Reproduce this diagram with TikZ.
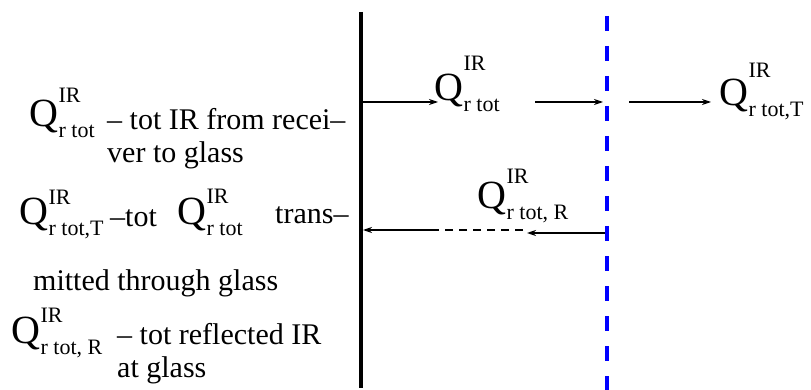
\documentclass[tikz,border=0pt]{standalone}
\usepackage{fontspec}
\setmainfont{Liberation Serif}
\newfontfamily\tms{Liberation Serif}
\usetikzlibrary{arrows.meta}
\newcommand{\Qsym}[2][22]{{\fontsize{40}{40}\selectfont Q}\kern0.5pt\rlap{\raisebox{#1pt}{\fontsize{22}{22}\selectfont IR}}\raisebox{-11pt}{\fontsize{22}{22}\selectfont #2}}
\tikzset{
  lbl/.style={anchor=base west, inner sep=0pt, font=\tms\fontsize{30}{30}\selectfont},
  qs/.style={anchor=base west, inner sep=0pt, font=\tms},
  arr/.style={line width=1.1pt, -{Stealth[length=9pt,width=6pt]}},
  dashpart/.style={line width=1.1pt, dash pattern=on 8pt off 6pt},
  receiver/.style={line width=4pt, black},
  glass/.style={line width=3.5pt, color={rgb,255:red,0;green,0;blue,255}, dash pattern=on 15pt off 15pt}
}
\begin{document}
\begin{tikzpicture}[x=1pt, y=-1pt]
\useasboundingbox (0,0) rectangle (811,390);
% walls
\coordinate (rtop) at (361,12);
\coordinate (rbot) at (361,388);
\coordinate (gtop) at (607,16);
\coordinate (gbot) at (607,390);
\draw[receiver] (rtop) -- (rbot);
\draw[glass] (gtop) -- (gbot);
% left legend
\node[qs] (lq1) at (29,127) {\Qsym[24]{r tot}};
\node[lbl] (lt1) at (107,130) {– tot IR from recei–};
\node[lbl] (lt1b) at (107,163) {ver to glass};
\node[qs] (lq2) at (19,225) {\Qsym[20]{r tot,T}};
\node[lbl] (lt2) at (110,226) {–tot};
\node[qs] (lq2b) at (177,225) {\Qsym[21]{r tot}};
\node[lbl] (lt2b) at (275,223) {trans–};
\node[lbl] (lt2c) at (33,290) {mitted through glass};
\node[qs] (lq3) at (11,343) {\Qsym[21]{r tot, R}};
\node[lbl] (lt3) at (117,344) {– tot reflected IR};
\node[lbl] (lt3b) at (117,377) {at glass};
% right labels
\node[qs] (q1) at (434,101) {\Qsym[30]{r tot}};
\node[qs] (q2) at (719,106) {\Qsym[28]{r tot,T}};
\node[qs] (q3) at (477,209) {\Qsym[25]{r tot, R}};
% arrows
\coordinate (a1s) at (363,102);
\coordinate (a1e) at (438,102);
\coordinate (a2s) at (535,102);
\coordinate (a2e) at (603,102);
\coordinate (a3s) at (629,102);
\coordinate (a3e) at (711,102);
\draw[arr] (a1s) -- (a1e);
\draw[arr] (a2s) -- (a2e);
\draw[arr] (a3s) -- (a3e);
\coordinate (b1s) at (605,233);
\coordinate (b1e) at (527,233);
\coordinate (b2s) at (523,230);
\coordinate (b2m) at (435,230);
\coordinate (b2e) at (363,230);
\draw[arr] (b1s) -- (b1e);
\draw[dashpart] (b2s) -- (b2m);
\draw[arr] (b2m) -- (b2e);
\end{tikzpicture}
\end{document}
